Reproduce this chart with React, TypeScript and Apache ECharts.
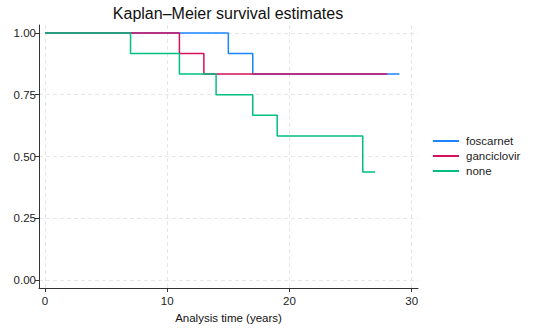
import React, { useEffect, useRef } from "react";
import * as echarts from "echarts";

const seriesNames = ["foscarnet", "ganciclovir", "none"];
const foscarnetTime = [0, 15, 17, 29];
const foscarnetSurv = [1, 0.9167, 0.8333, 0.8333];
const ganciclovirTime = [0, 11, 13, 28];
const ganciclovirSurv = [1, 0.9167, 0.8333, 0.8333];
const noneTime = [0, 7, 11, 14, 17, 19, 26, 27];
const noneSurv = [1, 0.9167, 0.8333, 0.75, 0.6667, 0.5833, 0.4375, 0.4375];
const xTicks = [0, 10, 20, 30];
const yTicks = [0, 0.25, 0.5, 0.75, 1];
const colors = ["#1a85ff", "#d41159", "#00bf7f"];

const FONT = "'Liberation Sans', Arial, Helvetica, sans-serif";

function pairs(t: number[], s: number[]) {
  return t.map((v, i) => [v, s[i]]);
}

export default function App() {
  const ref = useRef<HTMLDivElement>(null);
  useEffect(() => {
    if (!ref.current) return;
    const chart = echarts.init(ref.current, null, { renderer: "svg" });
    const data = [
      pairs(foscarnetTime, foscarnetSurv),
      pairs(ganciclovirTime, ganciclovirSurv),
      pairs(noneTime, noneSurv),
    ];
    const gridLineStyle = { color: "#e6e6e6", type: [4, 3] as any, width: 1 };
    chart.setOption({
      animation: false,
      backgroundColor: "#ffffff",
      textStyle: { fontFamily: FONT },
      graphic: [
        {
          type: "text",
          x: 228,
          y: 13,
          style: {
            text: "Kaplan\u2013Meier survival estimates",
            fill: "#111",
            font: `16px ${FONT}`,
            textAlign: "center",
            textVerticalAlign: "middle",
          },
        },
      ],
      grid: { left: 39, right: 132, top: 25, bottom: 41 },
      legend: {
        orient: "vertical",
        left: 428,
        top: 130,
        itemWidth: 26,
        itemHeight: 2,
        itemGap: 3,
        icon: "rect",
        data: seriesNames,
        textStyle: { fontSize: 11.5, color: "#222", fontFamily: FONT, padding: [0, 0, 0, 2] },
      },
      xAxis: {
        type: "value",
        min: -0.49,
        max: 30.52,
        name: "Analysis time (years)",
        nameLocation: "middle",
        nameGap: 24,
        nameTextStyle: { fontSize: 11.5, color: "#111", fontFamily: FONT },
        axisLine: { show: true, onZero: false, lineStyle: { color: "#333", width: 1 } },
        axisTick: { show: true, length: 4, customValues: xTicks, lineStyle: { color: "#333" } },
        axisLabel: {
          customValues: xTicks,
          margin: 7,
          fontSize: 11.5,
          color: "#222",
          fontFamily: FONT,
          formatter: (v: number) => String(v),
        },
        splitLine: { show: false },
      },
      yAxis: {
        type: "value",
        min: -0.032,
        max: 1.032,
        axisLine: { show: true, onZero: false, lineStyle: { color: "#333", width: 1 } },
        axisTick: { show: true, length: 4, customValues: yTicks, lineStyle: { color: "#333" } },
        axisLabel: {
          customValues: yTicks,
          margin: 3,
          fontSize: 11.5,
          color: "#222",
          fontFamily: FONT,
          formatter: (v: number) => v.toFixed(2),
        },
        splitLine: { show: false },
      },
      series: [
        {
          type: "line",
          name: "gridlines",
          data: [],
          silent: true,
          z: 0,
          markLine: {
            silent: true,
            z: 0,
            symbol: "none",
            label: { show: false },
            lineStyle: gridLineStyle,
            data: [
              ...xTicks.map((v) => ({ xAxis: v })),
              ...yTicks.map((v) => ({ yAxis: v })),
            ],
          },
        },
        ...seriesNames.map((name, i) => ({
          type: "line",
          name,
          step: "end",
          data: data[i],
          showSymbol: false,
          symbol: "none",
          color: colors[i],
          lineStyle: { color: colors[i], width: 1.5 },
          z: 10 + i,
        })),
      ],
    });
    return () => chart.dispose();
  }, []);
  return <div ref={ref} style={{ width: 550, height: 329, position: "absolute", left: 0, top: 0 }} />;
}
